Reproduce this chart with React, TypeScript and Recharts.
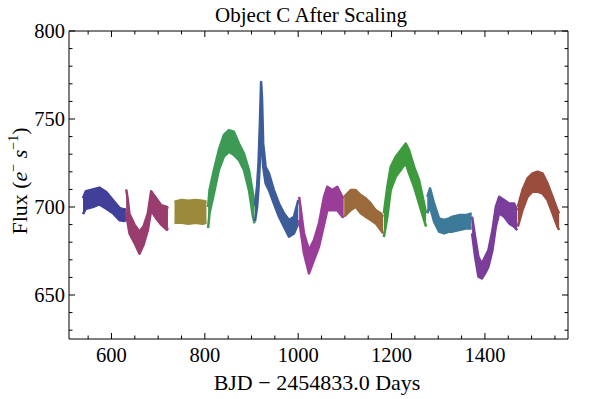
import React from "react";
import { ComposedChart, Area, XAxis, YAxis } from "recharts";

// light curve segments, each point is [day, low flux, high flux] of the noise band
const seg1 = [[539, 696, 705], [545, 699, 709], [560, 700, 710], [574, 701.5, 711], [589, 699, 708.5], [603, 696.5, 704], [617, 692.5, 699.5], [628, 692, 698.5], [631, 693, 699]];
const seg2 = [[631.5, 697, 710], [634, 692, 706], [638.6, 685, 696], [649.4, 679.5, 690], [660, 673.5, 686], [668.7, 678.5, 689], [678, 687, 696.5], [685, 698, 709], [695.8, 693.5, 705], [706.5, 690, 701], [718.7, 687, 700], [721, 688, 699]];
const seg3 = [[735, 691, 703], [750, 691, 704], [765, 690.5, 703.5], [780, 691, 704], [795, 690.5, 703.5], [803.5, 691, 703]];
const seg4 = [[807, 688, 700], [810, 696.4, 709.6], [819.4, 707.7, 721], [830, 721, 732.4], [840.8, 728.6, 740.9], [851.6, 731.4, 743.7], [862.3, 729.5, 742.8], [873, 726.7, 736.1], [883.7, 721, 730.5], [894.5, 709.6, 721], [903, 694.5, 707.7], [906.6, 690.7, 700.2]];
const seg5 = [[907.5, 692, 701], [912, 700, 712], [915, 711, 725], [918, 726, 748], [920.5, 742, 771], [922.5, 736, 762], [925, 722.9, 736], [930.2, 713.4, 722.9], [937.3, 709.6, 719.1], [948, 702, 709.6], [958.8, 694.5, 702], [969.5, 688.8, 696.4], [980.2, 683.1, 692.6], [991, 685, 694.5], [1000.2, 690.7, 704]];
const seg6 = [[1002, 692.6, 705.8], [1012.4, 673.6, 685], [1023.1, 662.3, 675.5], [1033.8, 669.9, 681.2], [1044.5, 677.4, 690.7], [1055.3, 690, 705.8], [1062.4, 698.2, 711.5], [1073.1, 698.2, 709.6], [1083.8, 698.2, 711.5], [1094.6, 694.5, 705.8], [1097.5, 694, 705]];
const seg7 = [[1098.5, 694.5, 705.8], [1112.4, 698.2, 709.6], [1123.1, 700.1, 709.6], [1133.9, 696.4, 706.8], [1144.6, 694.5, 704.9], [1155.3, 692.6, 702], [1166, 690.7, 698.2], [1176.7, 686.9, 696.4], [1181.8, 685, 694.5]];
const seg8 = [[1183.5, 683, 696.4], [1191, 694.5, 711.5], [1198.2, 709.6, 722.9], [1208.9, 717.2, 728.5], [1219.6, 721, 732.3], [1230.4, 724.8, 736.1], [1237.5, 719.1, 732.3], [1248.2, 711.5, 722.9], [1258.9, 702, 715.3], [1269.7, 692.6, 702], [1274, 688.8, 696.4]];
const seg9 = [[1276.5, 696.4, 705.8], [1282.5, 700.1, 710.6], [1291.1, 691.6, 702], [1301.8, 686, 693.5], [1312.6, 685, 692.6], [1323.3, 686, 693.5], [1330.4, 686, 694.5], [1344.7, 686.9, 695.4], [1359, 687.8, 695.4], [1371.5, 687.8, 696.4]];
const seg10 = [[1372.5, 685, 694.5], [1379, 671.7, 683.1], [1386.1, 660.4, 671.7], [1393.3, 659.4, 667.9], [1400.4, 662.3, 671.7], [1407.6, 666.1, 675.5], [1416.2, 675.5, 686.9], [1423.3, 688.8, 700.1], [1430.5, 696.4, 705.8], [1441.2, 694.5, 704], [1451.9, 690.7, 702], [1462.6, 688.8, 702], [1469, 686.9, 698.2]];
const seg11 = [[1470.5, 688.8, 700.1], [1480.5, 698.2, 709.6], [1491.2, 705.8, 716.2], [1501.9, 708.7, 719.1], [1512.7, 708.7, 720], [1523.4, 707.7, 719.1], [1534.1, 704, 713.4], [1544.8, 696.4, 705.8], [1555.5, 688.8, 698.2], [1559, 686.9, 696.4]];

const segments = [seg1, seg2, seg3, seg4, seg5, seg6, seg7, seg8, seg9, seg10, seg11];
const colors = ["#40409a", "#993d6e", "#9a8a3a", "#3d9a55", "#3d5c9a", "#993d99", "#9a6a3d", "#3d9a3d", "#3d7a9a", "#7a3d9a", "#9a4d3d"];

const xTicks = [550, 600, 650, 700, 750, 800, 850, 900, 950, 1000, 1050, 1100, 1150, 1200, 1250, 1300, 1350, 1400, 1450, 1500, 1550];
const yTicks = [630, 640, 650, 660, 670, 680, 690, 700, 710, 720, 730, 740, 750, 760, 770, 780, 790, 800];

const rows = segments
  .flatMap((pts, i) => pts.map(([x, lo, hi]) => ({ x, [`s${i}`]: [lo, hi] })))
  .sort((a, b) => a.x - b.x);

const FONT = "'Liberation Serif', 'Times New Roman', serif";

const BottomTick = ({ x, y, payload }: any) => {
  const major = payload.value % 200 === 0;
  return (
    <g>
      <line x1={x} x2={x} y1={y} y2={y - (major ? 6 : 3.5)} stroke="#000" />
      {major && (
        <text x={x} y={y + 22.5} textAnchor="middle" fontSize={20.5} fontFamily={FONT} fill="#000">
          {payload.value}
        </text>
      )}
    </g>
  );
};

const TopTick = ({ x, y, payload }: any) => {
  const major = payload.value % 200 === 0;
  return <line x1={x} x2={x} y1={y} y2={y + (major ? 6 : 3.5)} stroke="#000" />;
};

const LeftTick = ({ x, y, payload }: any) => {
  const major = payload.value % 50 === 0;
  return (
    <g>
      <line x1={x} x2={x + (major ? 6 : 3.5)} y1={y} y2={y} stroke="#000" />
      {major && (
        <text x={x - 4} y={y + 6.7} textAnchor="end" fontSize={20.5} fontFamily={FONT} fill="#000">
          {payload.value}
        </text>
      )}
    </g>
  );
};

const RightTick = ({ x, y, payload }: any) => {
  const major = payload.value % 50 === 0;
  return <line x1={x} x2={x - (major ? 6 : 3.5)} y1={y} y2={y} stroke="#000" />;
};

export default function App() {
  return (
    <div style={{ position: "absolute", left: 0, top: 0, width: 600, height: 399, background: "#fff" }}>
      <ComposedChart width={600} height={399} data={rows} margin={{ top: 30, right: 31, bottom: 59, left: 68 }}>
        <XAxis xAxisId="bottom" dataKey="x" type="number" domain={[509, 1578]} allowDataOverflow ticks={xTicks}
          height={1} tickSize={0} tickMargin={0} tickLine={false} axisLine={{ stroke: "#000" }} tick={<BottomTick />} interval={0} />
        <XAxis xAxisId="top" orientation="top" dataKey="x" type="number" domain={[509, 1578]} allowDataOverflow ticks={xTicks}
          height={1} tickSize={0} tickMargin={0} tickLine={false} axisLine={{ stroke: "#000" }} tick={<TopTick />} interval={0} />
        <YAxis yAxisId="left" type="number" domain={[625, 800]} allowDataOverflow ticks={yTicks}
          width={1} tickSize={0} tickMargin={0} tickLine={false} axisLine={{ stroke: "#000" }} tick={<LeftTick />} interval={0} />
        <YAxis yAxisId="right" orientation="right" type="number" domain={[625, 800]} allowDataOverflow ticks={yTicks}
          width={1} tickSize={0} tickMargin={0} tickLine={false} axisLine={{ stroke: "#000" }} tick={<RightTick />} interval={0} />
        {segments.map((_, i) => (
          <Area
            key={i}
            xAxisId="bottom"
            yAxisId="left"
            dataKey={`s${i}`}
            type="linear"
            stroke={colors[i]}
            strokeWidth={2.5}
            strokeLinejoin="round"
            fill={colors[i]}
            fillOpacity={1}
            dot={false}
            activeDot={false}
            isAnimationActive={false}
          />
        ))}
      </ComposedChart>
      <svg width={600} height={399} style={{ position: "absolute", left: 0, top: 0, pointerEvents: "none" }}>
        <text x={311} y={21.5} textAnchor="middle" fontSize={21} fontFamily={FONT} fill="#000">
          Object C After Scaling
        </text>
        <text x={317} y={390} textAnchor="middle" fontSize={22} fontFamily={FONT} fill="#000">
          BJD − 2454833.0 Days
        </text>
        <text transform="translate(26.5,181) rotate(-90)" textAnchor="middle" fontSize={22} fontFamily={FONT} fill="#000">
          Flux (<tspan fontStyle="italic">e</tspan>
          <tspan fontSize={14} dy={-9}>−</tspan>
          <tspan dy={9}> </tspan>
          <tspan fontStyle="italic">s</tspan>
          <tspan fontSize={14} dy={-9}>−1</tspan>
          <tspan dy={9}>)</tspan>
        </text>
      </svg>
    </div>
  );
}
